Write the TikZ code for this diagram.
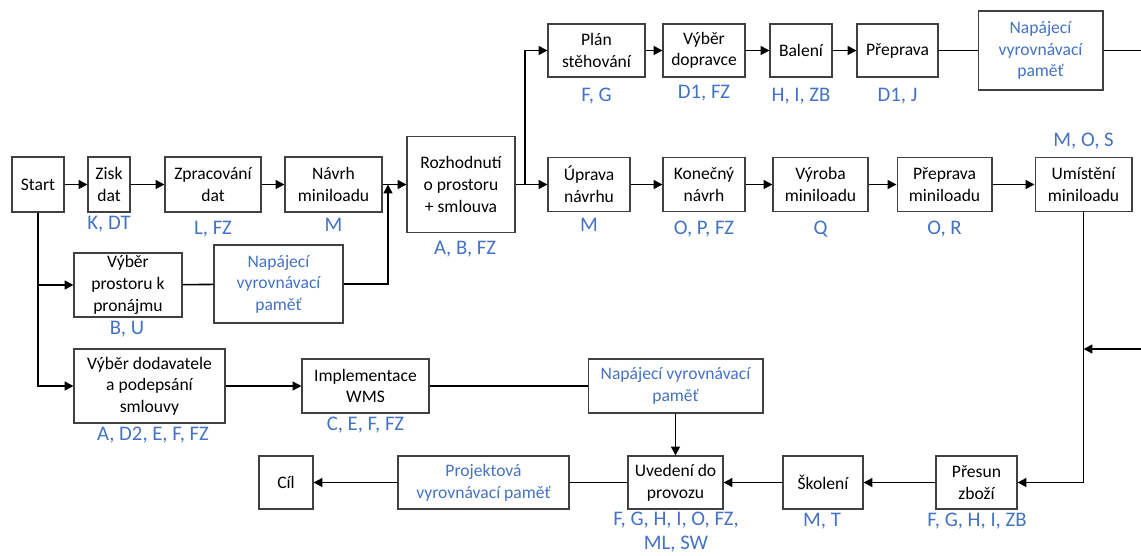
\documentclass[tikz,border=0pt]{standalone}
\usepackage{fontspec}
\setmainfont{Carlito}
\usepackage{tikz}
\usetikzlibrary{arrows.meta}
\definecolor{lblue}{HTML}{4472C4}

\begin{document}
\begin{tikzpicture}[x=0.02cm, y=-0.02cm,
	box/.style={draw=black!75, line width=0.6pt, align=center, inner sep=1pt, font=\fontsize{10}{12.3}\selectfont},
	buffer/.style={box, text=lblue},
	res/.style={text=lblue, align=center, inner sep=0pt, font=\fontsize{11.8}{14}\selectfont},
	flow/.style={line width=0.9pt, -{Triangle[length=5pt,width=5pt]}},
	link/.style={line width=0.9pt}]
	
	\useasboundingbox (0,0) rectangle (1141,555);
	
	% left part
	\node[box, minimum width=1.04cm, minimum height=1.1cm] (start) at (38,184.5) {Start};
	\node[box, minimum width=0.84cm, minimum height=1.1cm] (zisk) at (109,184.5) {Zisk\\dat};
	\node[box, minimum width=1.92cm, minimum height=1.1cm] (zprac) at (213,184.5) {Zpracování\\dat};
	\node[box, minimum width=1.94cm, minimum height=1.1cm] (navrh) at (333.5,184.5) {Návrh\\miniloadu};
	\node[box, minimum width=2.16cm, minimum height=1.28cm] (prostor) at (128,285) {Výběr\\prostoru k\\pronájmu};
	\node[buffer, minimum width=2.58cm, minimum height=1.56cm] (napL) at (278.5,284) {Napájecí\\vyrovnávací\\paměť};
	\node[box, minimum width=2.16cm, minimum height=1.92cm] (rozh) at (461,184.5) {Rozhodnutí\\o prostoru\\+ smlouva};
	\coordinate (j1) at (388,184.5);
	\coordinate (j2) at (525,184.5);
	
	% top row
	\node[box, minimum width=1.94cm, minimum height=1.06cm] (plan) at (596.5,50.5) {Plán\\stěhování};
	\node[box, minimum width=1.64cm, minimum height=1.06cm] (dopr) at (704,50.5) {Výběr\\dopravce};
	\node[box, minimum width=1.24cm, minimum height=1.06cm] (baleni) at (801,50.5) {Balení};
	\node[box, minimum width=1.62cm, minimum height=1.06cm] (preprava) at (897.5,50.5) {Přeprava};
	\node[buffer, minimum width=2.5cm, minimum height=1.58cm] (napT) at (1040.5,50.5) {Napájecí\\vyrovnávací\\paměť};
	\coordinate (r0) at (1141,50.5);
	
	% middle row
	\node[box, minimum width=1.64cm, minimum height=1.08cm] (uprava) at (589,184.5) {Úprava\\návrhu};
	\node[box, minimum width=1.64cm, minimum height=1.08cm] (konecny) at (704,184.5) {Konečný\\návrh};
	\node[box, minimum width=1.9cm, minimum height=1.08cm] (vyroba) at (820.5,184.5) {Výroba\\miniloadu};
	\node[box, minimum width=1.9cm, minimum height=1.08cm] (prepmini) at (944.5,184.5) {Přeprava\\miniloadu};
	\node[box, minimum width=1.94cm, minimum height=1.08cm] (umist) at (1083.5,184.5) {Umístění\\miniloadu};
	\coordinate (r1) at (1141,349);
	
	% bottom rows
	\node[box, minimum width=3.02cm, minimum height=1.48cm] (dodav) at (149.5,386) {Výběr dodavatele\\a podepsání\\smlouvy};
	\node[box, minimum width=2.54cm, minimum height=1.08cm] (wms) at (365.5,386) {Implementace\\WMS};
	\node[buffer, minimum width=3.5cm, minimum height=1.08cm] (napB) at (675.5,386) {Napájecí vyrovnávací\\paměť};
	\node[box, minimum width=1.9cm, minimum height=1.06cm] (uvedeni) at (675.5,482.5) {Uvedení do\\provozu};
	\node[box, minimum width=1.6cm, minimum height=1.06cm] (skoleni) at (823,482.5) {Školení};
	\node[box, minimum width=1.62cm, minimum height=1.06cm] (presun) at (976.5,482.5) {Přesun\\zboží};
	\node[buffer, minimum width=3.42cm, minimum height=1.06cm] (projekt) at (483.5,482.5) {Projektová\\vyrovnávací paměť};
	\node[box, minimum width=1.08cm, minimum height=1.06cm] (cil) at (286,482.5) {Cíl};
	
	% resources
	\node[res] (lzisk) at (109,224) {K, DT};
	\node[res] (lzprac) at (213,229) {L, FZ};
	\node[res] (lnavrh) at (333.5,225) {M};
	\node[res] (lprostor) at (127,329) {B, U};
	\node[res] (lrozh) at (465,249) {A, B, FZ};
	\node[res] (lplan) at (596.5,96) {F, G};
	\node[res] (ldopr) at (704,93) {D1, FZ};
	\node[res] (lbaleni) at (801,96) {H, I, ZB};
	\node[res] (lpreprava) at (897.5,96) {D1, J};
	\node[res] (luprava) at (589,225) {M};
	\node[res] (lkonecny) at (704,229) {O, P, FZ};
	\node[res] (lvyroba) at (820.5,229) {Q};
	\node[res] (lprepmini) at (944.5,229) {O, R};
	\node[res] (lumist) at (1083.5,141) {M, O, S};
	\node[res] (ldodav) at (153,435) {A, D2, E, F, FZ};
	\node[res] (lwms) at (365.5,425) {C, E, F, FZ};
	\node[res] (luvedeni) at (676,532) {F, G, H, I, O, FZ,\\ML, SW};
	\node[res] (lskoleni) at (822,521) {M, T};
	\node[res] (lpresun) at (977,521) {F, G, H, I, ZB};
	
	% connectors
	\draw[flow] (start) -- (zisk);
	\draw[flow] (zisk) -- (zprac);
	\draw[flow] (zprac) -- (navrh);
	\draw[flow] (navrh) -- (rozh);
	\draw[flow] (start) |- (prostor);
	\draw[flow] (start) |- (dodav);
	\draw[link] (prostor) -- (napL);
	\draw[flow] (napL) -| (j1);
	\draw[flow] (rozh) -- (uprava);
	\draw[flow] (j2) |- (plan);
	\draw[flow] (plan) -- (dopr);
	\draw[flow] (dopr) -- (baleni);
	\draw[flow] (baleni) -- (preprava);
	\draw[link] (preprava) -- (napT);
	\draw[link] (napT) -- (r0);
	\draw[flow] (uprava) -- (konecny);
	\draw[flow] (konecny) -- (vyroba);
	\draw[flow] (vyroba) -- (prepmini);
	\draw[flow] (prepmini) -- (umist);
	\draw[flow] (umist) |- (presun);
	\draw[flow] (r1) -- (umist.south |- r1);
	\draw[flow] (dodav) -- (wms);
	\draw[link] (wms) -- (napB);
	\draw[flow] (napB) -- (uvedeni);
	\draw[flow] (presun) -- (skoleni);
	\draw[flow] (skoleni) -- (uvedeni);
	\draw[link] (uvedeni) -- (projekt);
	\draw[flow] (projekt) -- (cil);
	
\end{tikzpicture}
\end{document}
